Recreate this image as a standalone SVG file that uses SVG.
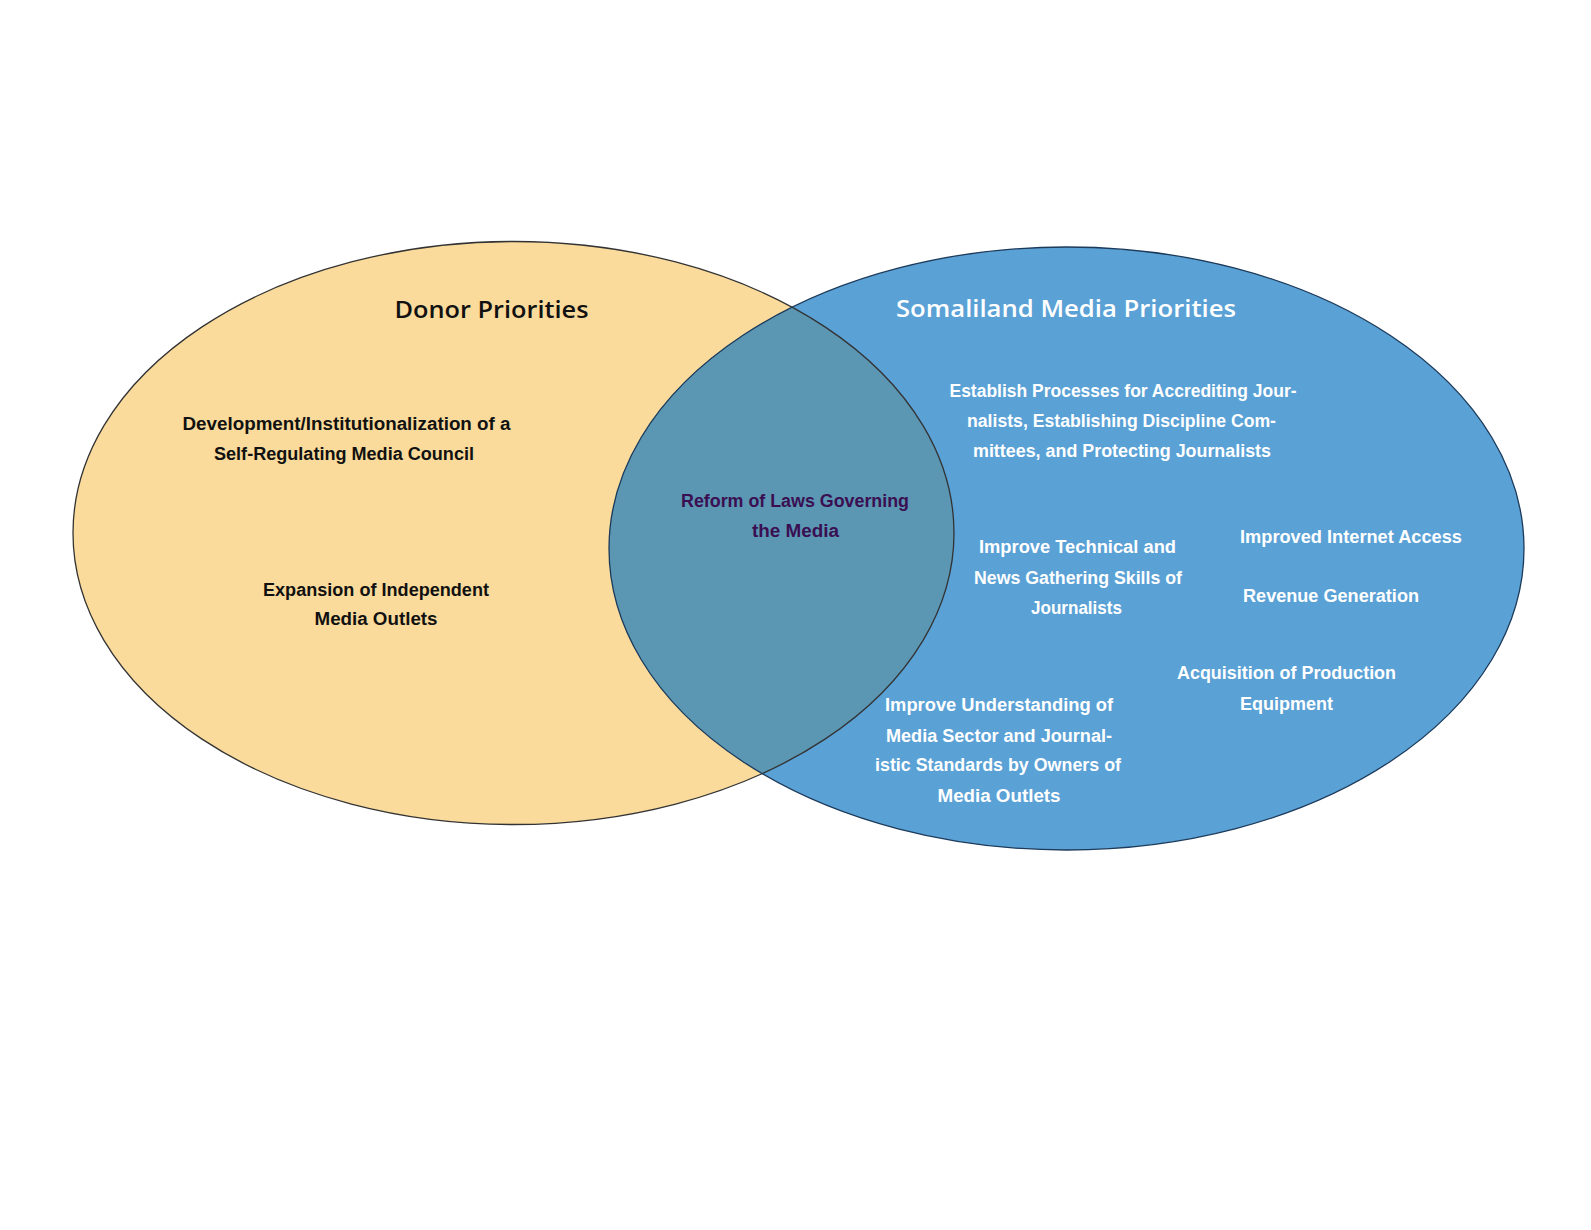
<svg xmlns="http://www.w3.org/2000/svg" width="1591" height="1230" viewBox="0 0 1591 1230">
<style>
.t{font-family:"Liberation Sans",Arial,sans-serif;font-weight:bold;font-size:17.5px;text-anchor:middle}
.h{font-family:"Open Sans","Liberation Sans",sans-serif;font-weight:600;font-size:24px;text-anchor:middle}
.k{fill:#111}
.w{fill:#fff}
.p{fill:#3a0f52}
</style>
<defs>
<clipPath id="clipL"><ellipse cx="513.5" cy="533" rx="440.5" ry="291.5"/></clipPath>
</defs>
<rect width="1591" height="1230" fill="#fff"/>
<g id="donor">
<ellipse cx="513.5" cy="533" rx="440.5" ry="291.5" fill="#fadb9b"/>
</g>
<g id="somaliland">
<ellipse cx="1066.5" cy="548.5" rx="457.5" ry="301.5" fill="#5aa1d6"/>
</g>
<g id="overlap">
<ellipse cx="1066.5" cy="548.5" rx="457.5" ry="301.5" fill="#5b96b3" clip-path="url(#clipL)"/>
</g>
<g id="outlines" fill="none">
<ellipse cx="513.5" cy="533" rx="440.5" ry="291.5" stroke="#333" stroke-width="1.3"/>
<ellipse cx="1066.5" cy="548.5" rx="457.5" ry="301.5" stroke="#1c3a5a" stroke-width="1.3"/>
</g>
<g id="donor-labels">
<text class="h k" x="491.5" y="317.5" textLength="194" lengthAdjust="spacingAndGlyphs">Donor Priorities</text>
<text class="t k" x="346.5" y="430" textLength="328" lengthAdjust="spacingAndGlyphs">Development/Institutionalization of a</text>
<text class="t k" x="344" y="460" textLength="260" lengthAdjust="spacingAndGlyphs">Self-Regulating Media Council</text>
<text class="t k" x="376" y="595.5" textLength="226" lengthAdjust="spacingAndGlyphs">Expansion of Independent</text>
<text class="t k" x="376" y="625" textLength="123" lengthAdjust="spacingAndGlyphs">Media Outlets</text>
</g>
<g id="shared-labels">
<text class="t p" x="795" y="507" textLength="228" lengthAdjust="spacingAndGlyphs">Reform of Laws Governing</text>
<text class="t p" x="795.5" y="537" textLength="87" lengthAdjust="spacingAndGlyphs">the Media</text>
</g>
<g id="somaliland-labels">
<text class="h w" x="1066" y="316.5" textLength="340" lengthAdjust="spacingAndGlyphs">Somaliland Media Priorities</text>
<text class="t w" x="1123" y="396.5" textLength="347" lengthAdjust="spacingAndGlyphs">Establish Processes for Accrediting Jour-</text>
<text class="t w" x="1121.5" y="427" textLength="309" lengthAdjust="spacingAndGlyphs">nalists, Establishing Discipline Com-</text>
<text class="t w" x="1122" y="456.5" textLength="298" lengthAdjust="spacingAndGlyphs">mittees, and Protecting Journalists</text>
<text class="t w" x="1077.5" y="553" textLength="197" lengthAdjust="spacingAndGlyphs">Improve Technical and</text>
<text class="t w" x="1078" y="583.5" textLength="208" lengthAdjust="spacingAndGlyphs">News Gathering Skills of</text>
<text class="t w" x="1076.5" y="614" textLength="91" lengthAdjust="spacingAndGlyphs">Journalists</text>
<text class="t w" x="1351" y="543" textLength="222" lengthAdjust="spacingAndGlyphs">Improved Internet Access</text>
<text class="t w" x="1331" y="601.5" textLength="176" lengthAdjust="spacingAndGlyphs">Revenue Generation</text>
<text class="t w" x="1286.5" y="679" textLength="219" lengthAdjust="spacingAndGlyphs">Acquisition of Production</text>
<text class="t w" x="1286.5" y="710" textLength="93" lengthAdjust="spacingAndGlyphs">Equipment</text>
<text class="t w" x="999" y="711" textLength="228" lengthAdjust="spacingAndGlyphs">Improve Understanding of</text>
<text class="t w" x="999" y="741.5" textLength="226" lengthAdjust="spacingAndGlyphs">Media Sector and Journal-</text>
<text class="t w" x="998" y="771" textLength="246" lengthAdjust="spacingAndGlyphs">istic Standards by Owners of</text>
<text class="t w" x="999" y="801.5" textLength="123" lengthAdjust="spacingAndGlyphs">Media Outlets</text>
</g>
</svg>
